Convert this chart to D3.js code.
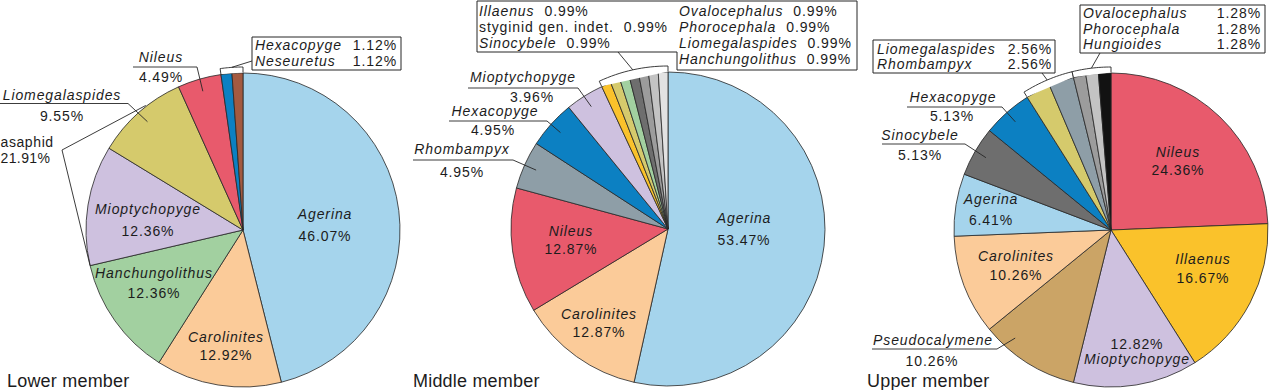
<!DOCTYPE html>
<html><head><meta charset="utf-8">
<script src="https://cdn.jsdelivr.net/npm/d3@7"></script>
<style>
body{margin:0;background:#fff}
svg{display:block}
text{font-family:"Liberation Sans",Arial,Helvetica,sans-serif;fill:#1c1c1c}
</style>
</head><body>
<svg id="chart" width="1269" height="390"></svg>
<script>
// ---------------- DATA ----------------
const memberTitles = ["Lower member", "Middle member", "Upper member"];

const lowerTaxa   = ["Agerina","Carolinites","Hanchungolithus","Mioptychopyge","Liomegalaspides","Nileus","Hexacopyge","Neseuretus"];
const lowerValues = [46.07, 12.92, 12.36, 12.36, 9.55, 4.49, 1.12, 1.12];

const middleTaxa   = ["Agerina","Carolinites","Nileus","Rhombampyx","Hexacopyge","Mioptychopyge","Illaenus","Liomegalaspides","Hanchungolithus","Sinocybele","Ovalocephalus","Phorocephala","styginid gen. indet."];
const middleValues = [53.47, 12.87, 12.87, 4.95, 4.95, 3.96, 0.99, 0.99, 0.99, 0.99, 0.99, 0.99, 0.99];

const upperTaxa   = ["Nileus","Illaenus","Mioptychopyge","Pseudocalymene","Carolinites","Agerina","Sinocybele","Hexacopyge","Liomegalaspides","Rhombampyx","Ovalocephalus","Phorocephala","Hungioides"];
const upperValues = [24.36, 16.67, 12.82, 10.26, 10.26, 6.41, 5.13, 5.13, 2.56, 2.56, 1.28, 1.28, 1.28];

const asaphidGroup = ["Mioptychopyge","Liomegalaspides"]; // lower member "asaphid"

// ---------------- STYLE ----------------
const palette = {
  "Agerina":"#A5D4EC","Carolinites":"#FBCB99","Hanchungolithus":"#A2D0A0","Mioptychopyge":"#CEC1DF",
  "Liomegalaspides":"#D5CA6C","Nileus":"#E85A6C","Hexacopyge":"#0C80C2","Neseuretus":"#A35A40",
  "Rhombampyx":"#8E9EA7","Illaenus":"#FAC22B","Pseudocalymene":"#CBA466","Sinocybele":"#6E6E6E",
  "Ovalocephalus":"#9C9C9C","Phorocephala":"#C3C3C3","styginid gen. indet.":"#E2E2E2","Hungioides":"#121212"
};
const R = 157;
const FS = 14, LS = 0.9;
const italicTaxa = t => t !== "styginid gen. indet.";
const pct = v => v.toFixed(2) + "%";

const svg = d3.select("#chart");

// ---------------- LAYOUT ----------------
const panels = [
  {taxa: lowerTaxa, values: lowerValues, cx: 243, cy: 230, titleX: 7,
   inner: [
     {t:"Agerina", x:325, y:219, y2:241},
     {t:"Mioptychopyge", x:148, y:214, y2:236},
     {t:"Hanchungolithus", x:154, y:278, y2:298},
     {t:"Carolinites", x:226, y:342, y2:360}
   ],
   outer: [
     {t:"Nileus", x:161, y:62, lx1:133, lx2:197, ly:67, px:161, py:82, frac:0.5},
     {t:"Liomegalaspides", x:62, y:100, lx1:-2, lx2:128, ly:103.5, px:62, py:121, frac:0.5}
   ],
   groups: [{taxa:["Hexacopyge","Neseuretus"], to:[252,61]}],
   boxes: [{shape:[[252,37],[401,37],[401,70],[252,70]],
            rows:[{t:"Hexacopyge", x:255, y:50, vx:397},{t:"Neseuretus", x:255, y:65.5, vx:397}]}]
  },
  {taxa: middleTaxa, values: middleValues, cx: 668, cy: 229, titleX: 413,
   inner: [
     {t:"Agerina", x:744, y:223, y2:245},
     {t:"Nileus", x:571, y:236, y2:254},
     {t:"Carolinites", x:599, y:319, y2:337}
   ],
   outer: [
     {t:"Mioptychopyge", x:523, y:82, lx1:468, lx2:578, ly:88, px:532, py:101.5, frac:0.5},
     {t:"Hexacopyge", x:495, y:116, lx1:449, lx2:547, ly:121, px:493, py:135, frac:0.5},
     {t:"Rhombampyx", x:462, y:154, lx1:413, lx2:513, ly:160, px:462, py:177, frac:0.5}
   ],
   groups: [{taxa:["Illaenus","Liomegalaspides","Hanchungolithus","Sinocybele","Ovalocephalus","Phorocephala","styginid gen. indet."], to:[618,52]}],
   boxes: [{shape:[[477,1],[857,1],[857,70],[677,70],[677,52],[477,52]],
            rows:[{t:"Illaenus", x:479, y:15.5, gap:10},{t:"styginid gen. indet.", x:479, y:31.5, gap:10},
                  {t:"Sinocybele", x:479, y:47.5, gap:10},
                  {t:"Ovalocephalus", x:679, y:15.5, gap:10},{t:"Phorocephala", x:679, y:31.5, gap:10},
                  {t:"Liomegalaspides", x:679, y:47.5, gap:10},{t:"Hanchungolithus", x:679, y:63.5, gap:10}]}]
  },
  {taxa: upperTaxa, values: upperValues, cx: 1111, cy: 230, titleX: 867,
   inner: [
     {t:"Nileus", x:1178, y:157, y2:175},
     {t:"Illaenus", x:1203, y:264, y2:283},
     {t:"Carolinites", x:1016, y:261, y2:280},
     {t:"Agerina", x:991, y:204, y2:225},
     {t:"Mioptychopyge", x:1137, y:364, y2:349}
   ],
   outer: [
     {t:"Hexacopyge", x:953, y:102, lx1:907, lx2:1002, ly:107, px:952, py:121, frac:0.5},
     {t:"Sinocybele", x:920, y:140, lx1:882, lx2:965, ly:144, px:920, py:160, frac:0.5},
     {t:"Pseudocalymene", x:933, y:345, lx1:872, lx2:997, ly:349, px:932, py:366, frac:0.75}
   ],
   groups: [{taxa:["Liomegalaspides","Rhombampyx"], to:[1042,73]},
            {taxa:["Ovalocephalus","Phorocephala","Hungioides"], to:[1100,53]}],
   boxes: [{shape:[[873,40],[1055,40],[1055,73],[873,73]],
            rows:[{t:"Liomegalaspides", x:877, y:54, vx:1052},{t:"Rhombampyx", x:877, y:69, vx:1052}]},
           {shape:[[1080,5],[1265,5],[1265,53],[1080,53]],
            rows:[{t:"Ovalocephalus", x:1083, y:18, vx:1261},{t:"Phorocephala", x:1083, y:33.5, vx:1261},
                  {t:"Hungioides", x:1083, y:49, vx:1261}]}]
  }
];

function addText(g, x, y, str, opts = {}) {
  return g.append("text").attr("x", x).attr("y", y)
    .attr("font-size", opts.size || FS)
    .attr("letter-spacing", opts.ls !== undefined ? opts.ls : LS)
    .attr("font-style", opts.italic ? "italic" : "normal")
    .attr("text-anchor", opts.anchor || "start")
    .text(str);
}

panels.forEach((p, pi) => {
  const g = svg.append("g");
  const data = p.taxa.map((t, i) => ({taxon: t, value: p.values[i]}));
  const arcs = d3.pie().sort(null).value(d => d.value)(data);
  const byTaxon = {};
  arcs.forEach(a => byTaxon[a.data.taxon] = a);
  const arc = d3.arc().innerRadius(0).outerRadius(R);
  const polar = (ang, r) => [p.cx + r * Math.sin(ang), p.cy - r * Math.cos(ang)];

  // slices
  g.append("g").attr("transform", `translate(${p.cx},${p.cy})`)
    .selectAll("path").data(arcs).join("path")
    .attr("d", arc)
    .attr("fill", d => palette[d.data.taxon])
    .attr("stroke", "#262626").attr("stroke-width", 0.8).attr("stroke-linejoin", "round");

  const line = d3.line();
  const stroke = sel => sel.attr("fill", "none").attr("stroke", "#262626").attr("stroke-width", 0.9);

  // inner labels
  p.inner.forEach(l => {
    const a = byTaxon[l.t];
    addText(g, l.x, l.y, l.t, {italic: true, anchor: "middle"});
    addText(g, l.x, l.y2, pct(a.data.value), {anchor: "middle"});
  });

  // outer labels with underline + leader
  p.outer.forEach(l => {
    const a = byTaxon[l.t];
    addText(g, l.x, l.y, l.t, {italic: true, anchor: "middle"});
    addText(g, l.px, l.py, pct(a.data.value), {anchor: "middle"});
    const end = polar(a.startAngle + l.frac * (a.endAngle - a.startAngle), R * 0.92);
    g.append("path").call(stroke).attr("d", line([[l.lx1, l.ly], [l.lx2, l.ly], end]));
  });

  // brackets for small slice groups
  p.groups.forEach(gr => {
    const a0 = byTaxon[gr.taxa[0]].startAngle;
    const a1 = byTaxon[gr.taxa[gr.taxa.length - 1]].endAngle;
    const rb = R + 6;
    const pts = [polar(a0, R + 0.5)];
    const n = 16;
    for (let i = 0; i <= n; i++) pts.push(polar(a0 + (a1 - a0) * i / n, rb));
    pts.push(polar(a1, R + 0.5));
    g.append("path").call(stroke).attr("fill", "#fff").attr("d", line(pts));
    g.append("path").call(stroke).attr("d", line([polar((a0 + a1) / 2, rb), gr.to]));
  });

  // boxes
  p.boxes.forEach(b => {
    g.append("path").attr("d", line(b.shape) + "Z")
      .attr("fill", "#fff").attr("stroke", "#262626").attr("stroke-width", 1);
    b.rows.forEach(r => {
      const v = pct(byTaxon[r.t].data.value);
      if (r.vx !== undefined) {
        addText(g, r.x, r.y, r.t, {italic: italicTaxa(r.t)});
        addText(g, r.vx, r.y, v, {anchor: "end"});
      } else {
        const t = g.append("text").attr("x", r.x).attr("y", r.y)
          .attr("font-size", FS).attr("letter-spacing", LS);
        t.append("tspan").attr("font-style", italicTaxa(r.t) ? "italic" : "normal").text(r.t);
        t.append("tspan").attr("dx", r.gap).text(v);
      }
    });
  });

  // asaphid bracket (lower member)
  if (pi === 0) {
    const aM = byTaxon[asaphidGroup[0]], aL = byTaxon[asaphidGroup[1]];
    const vtx = [62, 150];
    const pLow = polar(aM.startAngle, R);
    const pHigh = polar(aL.startAngle + 0.6 * (aL.endAngle - aL.startAngle), R + 1);
    g.append("path").call(stroke).attr("d", line([pLow, vtx, pHigh]));
    const sum = asaphidGroup.reduce((s, t) => s + byTaxon[t].data.value, 0);
    addText(g, 0.5, 147, "asaphid", {ls: 0.6});
    addText(g, 0.5, 163, pct(sum), {ls: 0.4});
  }

  // title
  addText(g, p.titleX, 387, memberTitles[pi], {size: 18, ls: 0.2});
});
</script>
</body></html>
